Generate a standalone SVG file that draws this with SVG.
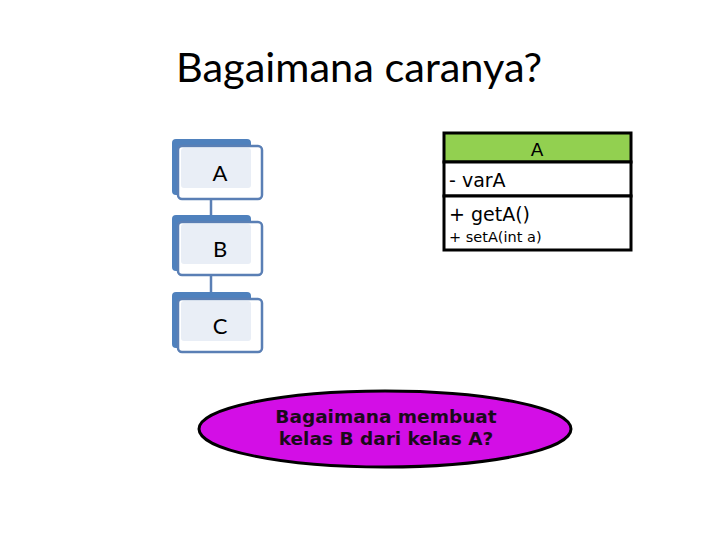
<svg xmlns="http://www.w3.org/2000/svg" width="720" height="540" viewBox="0 0 720 540">
<style>
.back{fill:#4f81bd}
.front{fill:#ffffff;stroke:#5a7fb5;stroke-width:2.5}
.inner{fill:#e9eef6}
.ntext{font-family:Lato,"Open Sans",sans-serif;font-size:22px;fill:#000;text-anchor:middle}
.conn{stroke:#5a7fb5;stroke-width:2.5;fill:none}
.box{stroke:#000;stroke-width:3}
.uml{font-family:"DejaVu Sans",sans-serif;fill:#000}
.etext{font-family:"DejaVu Sans",sans-serif;font-weight:bold;font-size:18.5px;fill:#1a0a1a;text-anchor:middle}
</style>
<rect width="720" height="540" fill="#ffffff"/>
<text x="176" y="82" font-family="Lato,'Open Sans',sans-serif" font-size="41.5" fill="#000">Bagaimana caranya?</text>
<g id="connectors">
<line class="conn" x1="211" y1="199" x2="211" y2="216"/>
<line class="conn" x1="211" y1="275" x2="211" y2="292"/>
</g>
<g id="nodeA">
<rect class="back" x="172" y="139" width="79" height="56" rx="4"/>
<rect class="front" x="178" y="146" width="84" height="53" rx="4"/>
<rect class="inner" x="181" y="148" width="70" height="40" rx="3"/>
<text class="ntext" x="220" y="181">A</text>
</g>
<g id="nodeB">
<rect class="back" x="172" y="215" width="79" height="56" rx="4"/>
<rect class="front" x="178" y="222" width="84" height="53" rx="4"/>
<rect class="inner" x="181" y="224" width="70" height="40" rx="3"/>
<text class="ntext" x="220" y="257">B</text>
</g>
<g id="nodeC">
<rect class="back" x="172" y="292" width="79" height="56" rx="4"/>
<rect class="front" x="178" y="299" width="84" height="53" rx="4"/>
<rect class="inner" x="181" y="301" width="70" height="40" rx="3"/>
<text class="ntext" x="220" y="334">C</text>
</g>
<g id="classA">
<rect class="box" x="444" y="133" width="187" height="29" fill="#92d050"/>
<rect class="box" x="444" y="162" width="187" height="34" fill="#ffffff"/>
<rect class="box" x="444" y="196" width="187" height="54" fill="#ffffff"/>
<text class="uml" x="537" y="156" font-size="18.5" text-anchor="middle">A</text>
<text class="uml" x="449" y="187" font-size="19">- varA</text>
<text class="uml" x="449" y="221" font-size="19">+ getA()</text>
<text class="uml" x="449" y="242" font-size="14.5">+ setA(int a)</text>
</g>
<g id="question">
<ellipse cx="385" cy="429" rx="186" ry="38" fill="#d30ee6" stroke="#000" stroke-width="3"/>
<text class="etext" x="386" y="423">Bagaimana membuat</text>
<text class="etext" x="386" y="445">kelas B dari kelas A?</text>
</g>
</svg>
